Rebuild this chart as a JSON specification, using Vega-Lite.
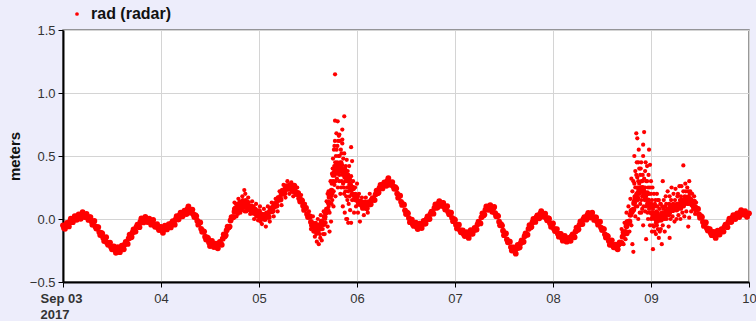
{
  "$schema": "https://vega.github.io/schema/vega-lite/v6.json",
  "width": 686,
  "height": 252,
  "autosize": "none",
  "padding": {"left": 63, "top": 30, "right": 7, "bottom": 39},
  "background": "#ededfb",
  "config": {
    "view": {"fill": "white", "stroke": "#777777", "strokeWidth": 1.5},
    "font": "Liberation Sans"
  },
  "datasets": {
    "base": [
      {"d":0,"v":-0.05},{"d":0.02,"v":-0.078},{"d":0.04,"v":-0.031},{"d":0.06,"v":-0.059},{"d":0.08,"v":0.003},{"d":0.1,"v":-0.025},
      {"d":0.12,"v":0.022},{"d":0.14,"v":-0.006},{"d":0.16,"v":0.037},{"d":0.18,"v":0.001},{"d":0.2,"v":0.055},{"d":0.22,"v":0.015},
      {"d":0.24,"v":0.04},{"d":0.26,"v":-0.007},{"d":0.28,"v":0.015},{"d":0.3,"v":-0.045},{"d":0.32,"v":-0.015},{"d":0.34,"v":-0.076},
      {"d":0.36,"v":-0.064},{"d":0.38,"v":-0.127},{"d":0.4,"v":-0.115},{"d":0.42,"v":-0.175},{"d":0.44,"v":-0.145},{"d":0.46,"v":-0.205},
      {"d":0.48,"v":-0.187},{"d":0.5,"v":-0.24},{"d":0.52,"v":-0.218},{"d":0.54,"v":-0.268},{"d":0.56,"v":-0.223},{"d":0.58,"v":-0.263},
      {"d":0.6,"v":-0.212},{"d":0.62,"v":-0.24},{"d":0.64,"v":-0.182},{"d":0.66,"v":-0.198},{"d":0.68,"v":-0.125},{"d":0.7,"v":-0.142},
      {"d":0.72,"v":-0.083},{"d":0.74,"v":-0.1},{"d":0.76,"v":-0.045},{"d":0.78,"v":-0.065},{"d":0.8,"v":0.005},{"d":0.82,"v":-0.027},
      {"d":0.84,"v":0.016},{"d":0.86,"v":-0.024},{"d":0.88,"v":0.003},{"d":0.9,"v":-0.045},{"d":0.92,"v":-0.008},{"d":0.94,"v":-0.062},
      {"d":0.96,"v":-0.04},{"d":0.98,"v":-0.088},{"d":1,"v":-0.062},{"d":1.02,"v":-0.11},{"d":1.04,"v":-0.052},{"d":1.06,"v":-0.083},
      {"d":1.08,"v":-0.04},{"d":1.1,"v":-0.067},{"d":1.12,"v":-0.018},{"d":1.14,"v":-0.045},{"d":1.16,"v":0.022},{"d":1.18,"v":-0.002},
      {"d":1.2,"v":0.05},{"d":1.22,"v":0.021},{"d":1.24,"v":0.067},{"d":1.26,"v":0.039},{"d":1.28,"v":0.1},{"d":1.3,"v":0.05},
      {"d":1.32,"v":0.075},{"d":1.34,"v":0.016},{"d":1.36,"v":0.023},{"d":1.38,"v":-0.045},{"d":1.4,"v":-0.028},{"d":1.42,"v":-0.102},
      {"d":1.44,"v":-0.1},{"d":1.46,"v":-0.163},{"d":1.48,"v":-0.152},{"d":1.5,"v":-0.215},{"d":1.52,"v":-0.174},{"d":1.54,"v":-0.222},
      {"d":1.56,"v":-0.196},{"d":1.58,"v":-0.232},{"d":1.6,"v":-0.181},{"d":1.62,"v":-0.205},{"d":1.64,"v":-0.122},{"d":1.66,"v":-0.128},
      {"d":1.68,"v":-0.06},{"d":1.7,"v":-0.06},{"d":1.72,"v":0.015},{"d":1.74,"v":0.015},{"d":1.76,"v":0.085},{"d":1.78,"v":0.065},
      {"d":1.8,"v":0.12},{"d":1.82,"v":0.087},{"d":1.84,"v":0.128},{"d":1.86,"v":0.095},{"d":1.88,"v":0.132},{"d":1.9,"v":0.078},
      {"d":1.92,"v":0.1},{"d":1.94,"v":0.05},{"d":1.96,"v":0.075},{"d":1.98,"v":0.025},{"d":2,"v":0.062},{"d":2.02,"v":0.008},
      {"d":2.04,"v":0.03},{"d":2.06,"v":0},{"d":2.08,"v":0.045},{"d":2.1,"v":0.015},{"d":2.12,"v":0.085},{"d":2.14,"v":0.065},
      {"d":2.16,"v":0.12},{"d":2.18,"v":0.107},{"d":2.2,"v":0.168},{"d":2.22,"v":0.155},{"d":2.24,"v":0.225},{"d":2.26,"v":0.205},
      {"d":2.28,"v":0.26},{"d":2.3,"v":0.24},{"d":2.32,"v":0.268},{"d":2.34,"v":0.222},{"d":2.36,"v":0.265},{"d":2.38,"v":0.198},
      {"d":2.4,"v":0.205},{"d":2.42,"v":0.138},{"d":2.44,"v":0.145},{"d":2.46,"v":0.072},{"d":2.48,"v":0.088},{"d":2.5,"v":0.015},
      {"d":2.52,"v":0.02},{"d":2.54,"v":-0.05},{"d":2.56,"v":-0.045},{"d":2.58,"v":-0.095},{"d":2.6,"v":-0.055},{"d":2.62,"v":-0.075},
      {"d":2.64,"v":-0.02},{"d":2.66,"v":-0.04},{"d":2.68,"v":0.052},{"d":2.7,"v":0.068},{"d":2.72,"v":0.175},{"d":2.74,"v":0.225},
      {"d":2.76,"v":0.35},{"d":2.78,"v":0.4},{"d":2.8,"v":0.429},{"d":2.82,"v":0.384},{"d":2.84,"v":0.428},{"d":2.86,"v":0.371},
      {"d":2.88,"v":0.377},{"d":2.9,"v":0.309},{"d":2.92,"v":0.315},{"d":2.94,"v":0.235},{"d":2.96,"v":0.245},{"d":2.98,"v":0.165},
      {"d":3,"v":0.18},{"d":3.02,"v":0.12},{"d":3.04,"v":0.135},{"d":3.06,"v":0.088},{"d":3.08,"v":0.132},{"d":3.1,"v":0.085},
      {"d":3.12,"v":0.133},{"d":3.14,"v":0.117},{"d":3.16,"v":0.165},{"d":3.18,"v":0.15},{"d":3.2,"v":0.225},{"d":3.22,"v":0.21},
      {"d":3.24,"v":0.27},{"d":3.26,"v":0.243},{"d":3.28,"v":0.29},{"d":3.3,"v":0.263},{"d":3.32,"v":0.325},{"d":3.34,"v":0.272},
      {"d":3.36,"v":0.293},{"d":3.38,"v":0.24},{"d":3.4,"v":0.242},{"d":3.42,"v":0.168},{"d":3.44,"v":0.185},{"d":3.46,"v":0.112},
      {"d":3.48,"v":0.113},{"d":3.5,"v":0.04},{"d":3.52,"v":0.045},{"d":3.54,"v":-0.025},{"d":3.56,"v":-0.005},{"d":3.58,"v":-0.055},
      {"d":3.6,"v":-0.03},{"d":3.62,"v":-0.08},{"d":3.64,"v":-0.038},{"d":3.66,"v":-0.072},{"d":3.68,"v":-0.015},{"d":3.7,"v":-0.035},
      {"d":3.72,"v":0.02},{"d":3.74,"v":0},{"d":3.76,"v":0.058},{"d":3.78,"v":0.042},{"d":3.8,"v":0.115},{"d":3.82,"v":0.091},
      {"d":3.84,"v":0.142},{"d":3.86,"v":0.104},{"d":3.88,"v":0.127},{"d":3.9,"v":0.075},{"d":3.92,"v":0.102},{"d":3.94,"v":0.038},
      {"d":3.96,"v":0.05},{"d":3.98,"v":-0.017},{"d":4,"v":-0.008},{"d":4.02,"v":-0.075},{"d":4.04,"v":-0.045},{"d":4.06,"v":-0.105},
      {"d":4.08,"v":-0.09},{"d":4.1,"v":-0.135},{"d":4.12,"v":-0.105},{"d":4.14,"v":-0.15},{"d":4.16,"v":-0.088},{"d":4.18,"v":-0.117},
      {"d":4.2,"v":-0.07},{"d":4.22,"v":-0.083},{"d":4.24,"v":-0.022},{"d":4.26,"v":-0.035},{"d":4.28,"v":0.045},{"d":4.3,"v":0.035},
      {"d":4.32,"v":0.1},{"d":4.34,"v":0.073},{"d":4.36,"v":0.109},{"d":4.38,"v":0.057},{"d":4.4,"v":0.095},{"d":4.42,"v":0.022},
      {"d":4.44,"v":0.023},{"d":4.46,"v":-0.05},{"d":4.48,"v":-0.052},{"d":4.5,"v":-0.128},{"d":4.52,"v":-0.115},{"d":4.54,"v":-0.185},
      {"d":4.56,"v":-0.18},{"d":4.58,"v":-0.25},{"d":4.6,"v":-0.225},{"d":4.62,"v":-0.275},{"d":4.64,"v":-0.205},{"d":4.66,"v":-0.225},
      {"d":4.68,"v":-0.17},{"d":4.7,"v":-0.18},{"d":4.72,"v":-0.115},{"d":4.74,"v":-0.125},{"d":4.76,"v":-0.048},{"d":4.78,"v":-0.062},
      {"d":4.8,"v":0},{"d":4.82,"v":-0.023},{"d":4.84,"v":0.028},{"d":4.86,"v":0.005},{"d":4.88,"v":0.062},{"d":4.9,"v":0.019},
      {"d":4.92,"v":0.042},{"d":4.94,"v":-0.01},{"d":4.96,"v":0.002},{"d":4.98,"v":-0.062},{"d":5,"v":-0.035},{"d":5.02,"v":-0.095},
      {"d":5.04,"v":-0.08},{"d":5.06,"v":-0.14},{"d":5.08,"v":-0.118},{"d":5.1,"v":-0.172},{"d":5.12,"v":-0.135},{"d":5.14,"v":-0.18},
      {"d":5.16,"v":-0.15},{"d":5.18,"v":-0.173},{"d":5.2,"v":-0.122},{"d":5.22,"v":-0.145},{"d":5.24,"v":-0.068},{"d":5.26,"v":-0.082},
      {"d":5.28,"v":-0.02},{"d":5.3,"v":-0.04},{"d":5.32,"v":0.015},{"d":5.34,"v":-0.005},{"d":5.36,"v":0.048},{"d":5.38,"v":0.012},
      {"d":5.4,"v":0.05},{"d":5.42,"v":-0.007},{"d":5.44,"v":0.012},{"d":5.46,"v":-0.045},{"d":5.48,"v":-0.022},{"d":5.5,"v":-0.088},
      {"d":5.52,"v":-0.08},{"d":5.54,"v":-0.147},{"d":5.56,"v":-0.138},{"d":5.58,"v":-0.205},{"d":5.6,"v":-0.169},{"d":5.62,"v":-0.224},
      {"d":5.64,"v":-0.203},{"d":5.66,"v":-0.24},{"d":5.68,"v":-0.185},{"d":5.7,"v":-0.19},{"d":5.72,"v":-0.105},{"d":5.74,"v":-0.102},
      {"d":5.76,"v":-0.023},{"d":5.78,"v":-0.02},{"d":5.8,"v":0.065},{"d":5.82,"v":0.075},{"d":5.84,"v":0.175},{"d":5.86,"v":0.168},
      {"d":5.88,"v":0.237},{"d":5.9,"v":0.23},{"d":5.92,"v":0.242},{"d":5.94,"v":0.178},{"d":5.96,"v":0.205},{"d":5.98,"v":0.115},
      {"d":6,"v":0.1},{"d":6.02,"v":0.01},{"d":6.04,"v":0.035},{"d":6.06,"v":-0.015},{"d":6.08,"v":0.025},{"d":6.1,"v":-0.005},
      {"d":6.12,"v":0.04},{"d":6.14,"v":0.01},{"d":6.16,"v":0.062},{"d":6.18,"v":0.038},{"d":6.2,"v":0.105},{"d":6.22,"v":0.07},
      {"d":6.24,"v":0.11},{"d":6.26,"v":0.075},{"d":6.28,"v":0.115},{"d":6.3,"v":0.088},{"d":6.32,"v":0.15},{"d":6.34,"v":0.123},
      {"d":6.36,"v":0.17},{"d":6.38,"v":0.127},{"d":6.4,"v":0.158},{"d":6.42,"v":0.115},{"d":6.44,"v":0.138},{"d":6.46,"v":0.072},
      {"d":6.48,"v":0.08},{"d":6.5,"v":0.01},{"d":6.52,"v":0.015},{"d":6.54,"v":-0.055},{"d":6.56,"v":-0.028},{"d":6.58,"v":-0.092},
      {"d":6.6,"v":-0.08},{"d":6.62,"v":-0.128},{"d":6.64,"v":-0.102},{"d":6.66,"v":-0.15},{"d":6.68,"v":-0.092},{"d":6.7,"v":-0.123},
      {"d":6.72,"v":-0.08},{"d":6.74,"v":-0.1},{"d":6.76,"v":-0.045},{"d":6.78,"v":-0.065},{"d":6.8,"v":0.002},{"d":6.82,"v":-0.022},
      {"d":6.84,"v":0.03},{"d":6.86,"v":0},{"d":6.88,"v":0.045},{"d":6.9,"v":0.015},{"d":6.92,"v":0.07},{"d":6.94,"v":0.035},
      {"d":6.96,"v":0.063},{"d":6.98,"v":0.017},{"d":7,"v":0.045},
      {"d":0.01,"v":-0.072},{"d":0.03,"v":-0.044},{"d":0.05,"v":-0.048},{"d":0.07,"v":-0.02},{"d":0.09,"v":-0.024},{"d":0.11,"v":0.004},
      {"d":0.13,"v":0},{"d":0.15,"v":0.026},{"d":0.17,"v":0.016},{"d":0.19,"v":0.036},{"d":0.21,"v":0.022},{"d":0.23,"v":0.033},
      {"d":0.25,"v":0.009},{"d":0.27,"v":0.015},{"d":0.29,"v":-0.018},{"d":0.31,"v":-0.022},{"d":0.33,"v":-0.059},{"d":0.35,"v":-0.065},
      {"d":0.37,"v":-0.104},{"d":0.39,"v":-0.111},{"d":0.41,"v":-0.148},{"d":0.43,"v":-0.152},{"d":0.45,"v":-0.188},{"d":0.47,"v":-0.191},
      {"d":0.49,"v":-0.222},{"d":0.51,"v":-0.219},{"d":0.53,"v":-0.246},{"d":0.55,"v":-0.238},{"d":0.57,"v":-0.256},{"d":0.59,"v":-0.232},
      {"d":0.61,"v":-0.234},{"d":0.63,"v":-0.201},{"d":0.65,"v":-0.193},{"d":0.67,"v":-0.154},{"d":0.69,"v":-0.147},{"d":0.71,"v":-0.107},
      {"d":0.73,"v":-0.1},{"d":0.75,"v":-0.062},{"d":0.77,"v":-0.058},{"d":0.79,"v":-0.022},{"d":0.81,"v":-0.024},{"d":0.83,"v":0},
      {"d":0.85,"v":-0.012},{"d":0.87,"v":0},{"d":0.89,"v":-0.024},{"d":0.91,"v":-0.019},{"d":0.93,"v":-0.048},{"d":0.95,"v":-0.046},
      {"d":0.97,"v":-0.072},{"d":0.99,"v":-0.065},{"d":1.01,"v":-0.089},{"d":1.03,"v":-0.073},{"d":1.05,"v":-0.081},{"d":1.07,"v":-0.056},
      {"d":1.09,"v":-0.062},{"d":1.11,"v":-0.032},{"d":1.13,"v":-0.035},{"d":1.15,"v":-0.004},{"d":1.17,"v":-0.003},{"d":1.19,"v":0.03},
      {"d":1.21,"v":0.028},{"d":1.23,"v":0.055},{"d":1.25,"v":0.05},{"d":1.27,"v":0.078},{"d":1.29,"v":0.062},{"d":1.31,"v":0.068},
      {"d":1.33,"v":0.038},{"d":1.35,"v":0.03},{"d":1.37,"v":-0.014},{"d":1.39,"v":-0.029},{"d":1.41,"v":-0.078},{"d":1.43,"v":-0.096},
      {"d":1.45,"v":-0.14},{"d":1.47,"v":-0.147},{"d":1.49,"v":-0.187},{"d":1.51,"v":-0.187},{"d":1.53,"v":-0.211},{"d":1.55,"v":-0.204},
      {"d":1.57,"v":-0.222},{"d":1.59,"v":-0.196},{"d":1.61,"v":-0.196},{"d":1.63,"v":-0.156},{"d":1.65,"v":-0.138},{"d":1.67,"v":-0.089},
      {"d":1.69,"v":-0.068},{"d":1.71,"v":-0.012},{"d":1.73,"v":0.012},{"d":1.75,"v":0.058},{"d":1.77,"v":0.062},{"d":1.79,"v":0.098},
      {"d":1.81,"v":0.096},{"d":1.83,"v":0.118},{"d":1.85,"v":0.109},{"d":1.87,"v":0.122},{"d":1.89,"v":0.092},{"d":1.91,"v":0.095},
      {"d":1.93,"v":0.067},{"d":1.95,"v":0.073},{"d":1.97,"v":0.047},{"d":1.99,"v":0.052},{"d":2.01,"v":0.022},{"d":2.03,"v":0.025},
      {"d":2.05,"v":0.007},{"d":2.07,"v":0.033},{"d":2.09,"v":0.027},{"d":2.11,"v":0.058},{"d":2.13,"v":0.062},{"d":2.15,"v":0.098},
      {"d":2.17,"v":0.106},{"d":2.19,"v":0.148},{"d":2.21,"v":0.159},{"d":2.23,"v":0.198},{"d":2.25,"v":0.202},{"d":2.27,"v":0.238},
      {"d":2.29,"v":0.242},{"d":2.31,"v":0.265},{"d":2.33,"v":0.242},{"d":2.35,"v":0.252},{"d":2.37,"v":0.219},{"d":2.39,"v":0.207},
      {"d":2.41,"v":0.164},{"d":2.43,"v":0.152},{"d":2.45,"v":0.106},{"d":2.47,"v":0.088},{"d":2.49,"v":0.039},{"d":2.51,"v":0.023},
      {"d":2.53,"v":-0.023},{"d":2.55,"v":-0.037},{"d":2.57,"v":-0.073},{"d":2.59,"v":-0.067},{"d":2.61,"v":-0.078},{"d":2.63,"v":-0.042},
      {"d":2.65,"v":-0.038},{"d":2.67,"v":0.017},{"d":2.69,"v":0.057},{"d":2.71,"v":0.13},{"d":2.73,"v":0.187},{"d":2.75,"v":0.293},
      {"d":2.77,"v":0.367},{"d":2.79,"v":0.425},{"d":2.81,"v":0.404},{"d":2.83,"v":0.414},{"d":2.85,"v":0.387},{"d":2.87,"v":0.38},
      {"d":2.89,"v":0.335},{"d":2.91,"v":0.323},{"d":2.93,"v":0.272},{"d":2.95,"v":0.248},{"d":2.97,"v":0.192},{"d":2.99,"v":0.178},
      {"d":3.01,"v":0.142},{"d":3.03,"v":0.138},{"d":3.05,"v":0.109},{"d":3.07,"v":0.118},{"d":3.09,"v":0.096},{"d":3.11,"v":0.115},
      {"d":3.13,"v":0.117},{"d":3.15,"v":0.152},{"d":3.17,"v":0.155},{"d":3.19,"v":0.196},{"d":3.21,"v":0.205},{"d":3.23,"v":0.246},
      {"d":3.25,"v":0.249},{"d":3.27,"v":0.277},{"d":3.29,"v":0.274},{"d":3.31,"v":0.302},{"d":3.33,"v":0.286},{"d":3.35,"v":0.288},
      {"d":3.37,"v":0.259},{"d":3.39,"v":0.252},{"d":3.41,"v":0.202},{"d":3.43,"v":0.185},{"d":3.45,"v":0.136},{"d":3.47,"v":0.118},
      {"d":3.49,"v":0.069},{"d":3.51,"v":0.053},{"d":3.53,"v":0.007},{"d":3.55,"v":-0.007},{"d":3.57,"v":-0.043},{"d":3.59,"v":-0.037},
      {"d":3.61,"v":-0.063},{"d":3.63,"v":-0.049},{"d":3.65,"v":-0.058},{"d":3.67,"v":-0.036},{"d":3.69,"v":-0.038},{"d":3.71,"v":-0.002},
      {"d":3.73,"v":0.002},{"d":3.75,"v":0.04},{"d":3.77,"v":0.047},{"d":3.79,"v":0.087},{"d":3.81,"v":0.09},{"d":3.83,"v":0.122},
      {"d":3.85,"v":0.115},{"d":3.87,"v":0.126},{"d":3.89,"v":0.098},{"d":3.91,"v":0.097},{"d":3.93,"v":0.057},{"d":3.95,"v":0.05},
      {"d":3.97,"v":0.009},{"d":3.99,"v":-0.002},{"d":4.01,"v":-0.045},{"d":4.03,"v":-0.052},{"d":4.05,"v":-0.088},{"d":4.07,"v":-0.092},
      {"d":4.09,"v":-0.121},{"d":4.11,"v":-0.11},{"d":4.13,"v":-0.131},{"d":4.15,"v":-0.111},{"d":4.17,"v":-0.116},{"d":4.19,"v":-0.088},
      {"d":4.21,"v":-0.085},{"d":4.23,"v":-0.042},{"d":4.25,"v":-0.032},{"d":4.27,"v":0.013},{"d":4.29,"v":0.027},{"d":4.31,"v":0.073},
      {"d":4.33,"v":0.079},{"d":4.35,"v":0.102},{"d":4.37,"v":0.08},{"d":4.39,"v":0.084},{"d":4.41,"v":0.046},{"d":4.43,"v":0.028},
      {"d":4.45,"v":-0.022},{"d":4.47,"v":-0.041},{"d":4.49,"v":-0.093},{"d":4.51,"v":-0.114},{"d":4.53,"v":-0.163},{"d":4.55,"v":-0.177},
      {"d":4.57,"v":-0.223},{"d":4.59,"v":-0.227},{"d":4.61,"v":-0.253},{"d":4.63,"v":-0.232},{"d":4.65,"v":-0.228},{"d":4.67,"v":-0.192},
      {"d":4.69,"v":-0.183},{"d":4.71,"v":-0.137},{"d":4.73,"v":-0.123},{"d":4.75,"v":-0.079},{"d":4.77,"v":-0.068},{"d":4.79,"v":-0.026},
      {"d":4.81,"v":-0.02},{"d":4.83,"v":0.013},{"d":4.85,"v":0.014},{"d":4.87,"v":0.042},{"d":4.89,"v":0.028},{"d":4.91,"v":0.036},
      {"d":4.93,"v":0.008},{"d":4.95,"v":0.007},{"d":4.97,"v":-0.033},{"d":4.99,"v":-0.041},{"d":5.01,"v":-0.078},{"d":5.03,"v":-0.082},
      {"d":5.05,"v":-0.118},{"d":5.07,"v":-0.119},{"d":5.09,"v":-0.148},{"d":5.11,"v":-0.146},{"d":5.13,"v":-0.171},{"d":5.15,"v":-0.16},
      {"d":5.17,"v":-0.17},{"d":5.19,"v":-0.137},{"d":5.21,"v":-0.137},{"d":5.23,"v":-0.099},{"d":5.25,"v":-0.088},{"d":5.27,"v":-0.046},
      {"d":5.29,"v":-0.038},{"d":5.31,"v":-0.002},{"d":5.33,"v":0.002},{"d":5.35,"v":0.03},{"d":5.37,"v":0.017},{"d":5.39,"v":0.037},
      {"d":5.41,"v":0.014},{"d":5.43,"v":0.013},{"d":5.45,"v":-0.02},{"d":5.47,"v":-0.026},{"d":5.49,"v":-0.068},{"d":5.51,"v":-0.079},
      {"d":5.53,"v":-0.122},{"d":5.55,"v":-0.132},{"d":5.57,"v":-0.175},{"d":5.59,"v":-0.179},{"d":5.61,"v":-0.21},{"d":5.63,"v":-0.208},
      {"d":5.65,"v":-0.23},{"d":5.67,"v":-0.202},{"d":5.69,"v":-0.191},{"d":5.71,"v":-0.14},{"d":5.73,"v":-0.117},{"d":5.75,"v":-0.057},
      {"d":5.77,"v":-0.03},{"d":5.79,"v":0.033},{"d":5.81,"v":0.067},{"d":5.83,"v":0.133},{"d":5.85,"v":0.159},{"d":5.87,"v":0.208},
      {"d":5.89,"v":0.226},{"d":5.91,"v":0.247},{"d":5.93,"v":0.207},{"d":5.95,"v":0.2},{"d":5.97,"v":0.147},{"d":5.99,"v":0.113},
      {"d":6.01,"v":0.047},{"d":6.03,"v":0.033},{"d":6.05,"v":0.007},{"d":6.07,"v":0.013},{"d":6.09,"v":-0.003},{"d":6.11,"v":0.023},
      {"d":6.13,"v":0.017},{"d":6.15,"v":0.047},{"d":6.17,"v":0.047},{"d":6.19,"v":0.08},{"d":6.21,"v":0.075},{"d":6.23,"v":0.096},
      {"d":6.25,"v":0.085},{"d":6.27,"v":0.106},{"d":6.29,"v":0.099},{"d":6.31,"v":0.127},{"d":6.33,"v":0.124},{"d":6.35,"v":0.152},
      {"d":6.37,"v":0.141},{"d":6.39,"v":0.153},{"d":6.41,"v":0.134},{"d":6.43,"v":0.135},{"d":6.45,"v":0.092},{"d":6.47,"v":0.082},
      {"d":6.49,"v":0.037},{"d":6.51,"v":0.023},{"d":6.53,"v":-0.023},{"d":6.55,"v":-0.034},{"d":6.57,"v":-0.073},{"d":6.59,"v":-0.081},
      {"d":6.61,"v":-0.112},{"d":6.63,"v":-0.105},{"d":6.65,"v":-0.129},{"d":6.67,"v":-0.113},{"d":6.69,"v":-0.121},{"d":6.71,"v":-0.096},
      {"d":6.73,"v":-0.098},{"d":6.75,"v":-0.062},{"d":6.77,"v":-0.058},{"d":6.79,"v":-0.024},{"d":6.81,"v":-0.023},{"d":6.83,"v":0.01},
      {"d":6.85,"v":0.007},{"d":6.87,"v":0.033},{"d":6.89,"v":0.027},{"d":6.91,"v":0.051},{"d":6.93,"v":0.04},{"d":6.95,"v":0.055},
      {"d":6.97,"v":0.032},{"d":6.99,"v":0.042}
    ],
    "scatter": [
      {"d":1.75,"v":0.13},{"d":1.77,"v":0.02},{"d":1.79,"v":0.16},{"d":1.81,"v":0.05},{"d":1.83,"v":0.18},{"d":1.85,"v":0.23},
      {"d":1.86,"v":0.2},{"d":1.87,"v":0.06},{"d":1.89,"v":0.17},{"d":1.91,"v":0.04},{"d":1.93,"v":0.14},{"d":1.95,"v":0},
      {"d":1.97,"v":0.12},{"d":1.99,"v":-0.01},{"d":2.01,"v":0.1},{"d":2.03,"v":-0.04},{"d":2.05,"v":0.08},{"d":2.07,"v":-0.06},
      {"d":2.09,"v":0.1},{"d":2.11,"v":-0.02},{"d":2.13,"v":0.13},{"d":2.15,"v":0.02},{"d":2.17,"v":0.16},{"d":2.19,"v":0.06},
      {"d":2.21,"v":0.22},{"d":2.23,"v":0.11},{"d":2.25,"v":0.27},{"d":2.27,"v":0.17},{"d":2.29,"v":0.3},{"d":2.31,"v":0.2},
      {"d":2.33,"v":0.29},{"d":2.35,"v":0.18},{"d":2.37,"v":0.22},{"d":2.39,"v":0.25},{"d":2.41,"v":0.17},{"d":2.43,"v":0.19},
      {"d":2.45,"v":0.1},{"d":2.47,"v":0.12},
      {"d":1.745,"v":0.08},{"d":1.755,"v":0.05},{"d":1.765,"v":0.12},{"d":1.775,"v":0.1},{"d":1.785,"v":0.04},{"d":1.795,"v":0.1},
      {"d":1.805,"v":0.14},{"d":1.815,"v":0.12},{"d":1.825,"v":0.07},{"d":1.835,"v":0.15},{"d":1.845,"v":0.1},{"d":1.855,"v":0.06},
      {"d":1.865,"v":0.15},{"d":1.875,"v":0.11},{"d":1.885,"v":0.09},{"d":1.895,"v":0.13},{"d":1.905,"v":0.07},{"d":1.915,"v":0.1},
      {"d":1.925,"v":0.05},{"d":1.935,"v":0.08},{"d":1.945,"v":0.1},{"d":1.955,"v":0.04},{"d":1.965,"v":0.07},{"d":1.975,"v":0.03},
      {"d":1.985,"v":0.06},{"d":1.995,"v":0.02},{"d":2.005,"v":0.04},{"d":2.015,"v":-0.02},{"d":2.025,"v":0.02},{"d":2.035,"v":0.04},
      {"d":2.51,"v":0.06},{"d":2.53,"v":-0.08},{"d":2.55,"v":0.02},{"d":2.57,"v":-0.14},{"d":2.58,"v":-0.03},{"d":2.59,"v":-0.18},
      {"d":2.6,"v":0},{"d":2.61,"v":-0.2},{"d":2.62,"v":-0.12},{"d":2.63,"v":0.03},{"d":2.64,"v":-0.17},{"d":2.65,"v":-0.08},
      {"d":2.66,"v":0.06},{"d":2.67,"v":-0.12},{"d":2.68,"v":-0.03},{"d":2.69,"v":0.14},{"d":2.7,"v":-0.06},{"d":2.71,"v":0.22},
      {"d":2.555,"v":-0.1},{"d":2.565,"v":-0.05},{"d":2.575,"v":-0.08},{"d":2.585,"v":-0.12},{"d":2.595,"v":-0.06},{"d":2.605,"v":-0.1},
      {"d":2.615,"v":-0.05},{"d":2.625,"v":-0.15},{"d":2.635,"v":-0.08},{"d":2.645,"v":-0.03},{"d":2.655,"v":-0.12},{"d":2.675,"v":0},{"d":2.685,"v":0.08},
      {"d":2.72,"v":0.05},{"d":2.73,"v":0.3},{"d":2.735,"v":-0.02},{"d":2.74,"v":0.12},{"d":2.745,"v":0.36},{"d":2.75,"v":0.2},
      {"d":2.755,"v":0.48},{"d":2.76,"v":0.1},{"d":2.765,"v":0.55},{"d":2.77,"v":0.27},{"d":2.775,"v":0.62},{"d":2.78,"v":0.18},
      {"d":2.785,"v":0.5},{"d":2.79,"v":0.68},{"d":2.795,"v":0.32},{"d":2.8,"v":0.58},{"d":2.805,"v":0.25},{"d":2.81,"v":0.5},
      {"d":2.815,"v":0.66},{"d":2.82,"v":0.35},{"d":2.825,"v":0.62},{"d":2.83,"v":0.2},{"d":2.835,"v":0.55},{"d":2.84,"v":0.45},
      {"d":2.845,"v":0.3},{"d":2.85,"v":0.6},{"d":2.855,"v":0.1},{"d":2.86,"v":0.48},{"d":2.865,"v":0.25},{"d":2.87,"v":0.52},
      {"d":2.875,"v":0.05},{"d":2.88,"v":0.3},{"d":2.885,"v":0.42},{"d":2.89,"v":0.18},{"d":2.895,"v":0.47},{"d":2.9,"v":0},
      {"d":2.905,"v":0.38},{"d":2.91,"v":0.22},{"d":2.915,"v":0.12},{"d":2.92,"v":0.42},{"d":2.93,"v":0.07},{"d":2.94,"v":0.34},
      {"d":2.95,"v":0.15},{"d":2.96,"v":0.3},{"d":2.97,"v":0.05},{"d":2.98,"v":0.25},{"d":2.99,"v":0.1},{"d":3,"v":0.28},
      {"d":3.01,"v":0.05},{"d":3.02,"v":0.2},{"d":3.03,"v":-0.02},{"d":3.05,"v":0.17},{"d":3.07,"v":0.03},{"d":3.09,"v":0.17},
      {"d":3.11,"v":0.05},{"d":3.13,"v":0.2},
      {"d":2.742,"v":0.28},{"d":2.748,"v":0.15},{"d":2.752,"v":0.4},{"d":2.758,"v":0.3},{"d":2.762,"v":0.22},{"d":2.768,"v":0.42},
      {"d":2.772,"v":0.35},{"d":2.778,"v":0.45},{"d":2.782,"v":0.3},{"d":2.788,"v":0.4},{"d":2.792,"v":0.55},{"d":2.798,"v":0.45},
      {"d":2.802,"v":0.36},{"d":2.808,"v":0.62},{"d":2.812,"v":0.42},{"d":2.818,"v":0.3},{"d":2.822,"v":0.5},{"d":2.828,"v":0.45},
      {"d":2.832,"v":0.38},{"d":2.838,"v":0.25},{"d":2.842,"v":0.52},{"d":2.848,"v":0.4},{"d":2.852,"v":0.35},{"d":2.858,"v":0.28},
      {"d":2.862,"v":0.38},{"d":2.868,"v":0.2},{"d":2.872,"v":0.33},{"d":2.878,"v":0.4},{"d":2.882,"v":0.22},{"d":2.888,"v":0.3},
      {"d":2.892,"v":0.35},{"d":2.898,"v":0.25},{"d":2.902,"v":0.15},{"d":2.908,"v":0.3},{"d":2.912,"v":0.35},{"d":2.918,"v":0.25},
      {"d":2.925,"v":0.18},{"d":2.935,"v":0.25},{"d":2.945,"v":0.2},{"d":2.955,"v":0.25},{"d":2.965,"v":0.2},{"d":2.975,"v":0.15},
      {"d":2.985,"v":0.2},{"d":2.995,"v":0.15},{"d":2.71,"v":0.1},{"d":2.72,"v":-0.1},{"d":2.69,"v":0.05},{"d":2.7,"v":0.2},
      {"d":2.776,"v":1.148},{"d":2.776,"v":0.78},{"d":2.803,"v":0.775},{"d":2.87,"v":0.815},{"d":2.85,"v":0.71},{"d":2.82,"v":0.67},
      {"d":2.85,"v":0.63},{"d":2.77,"v":0.58},{"d":2.94,"v":0.57},{"d":2.95,"v":0.46},{"d":2.91,"v":-0.03},{"d":2.94,"v":-0.03},{"d":2.89,"v":0},
      {"d":5.7,"v":-0.08},{"d":5.72,"v":-0.2},{"d":5.73,"v":-0.03},{"d":5.74,"v":-0.16},{"d":5.75,"v":0.05},{"d":5.76,"v":-0.12},
      {"d":5.77,"v":0.1},{"d":5.78,"v":-0.1},{"d":5.79,"v":0.16},{"d":5.8,"v":0.32},{"d":5.8,"v":-0.05},{"d":5.81,"v":-0.2},
      {"d":5.81,"v":0.22},{"d":5.82,"v":-0.26},{"d":5.82,"v":0.12},{"d":5.83,"v":0.5},{"d":5.83,"v":0.28},{"d":5.84,"v":0.02},
      {"d":5.84,"v":0.38},{"d":5.85,"v":0.68},{"d":5.85,"v":0.2},{"d":5.86,"v":0.64},{"d":5.86,"v":0.1},{"d":5.86,"v":0.33},
      {"d":5.87,"v":0.45},{"d":5.87,"v":0},{"d":5.88,"v":0.28},{"d":5.88,"v":0.4},{"d":5.89,"v":0.12},{"d":5.89,"v":0.35},
      {"d":5.9,"v":0.05},{"d":5.9,"v":0.45},{"d":5.91,"v":0.18},{"d":5.91,"v":0.3},{"d":5.92,"v":0.59},{"d":5.92,"v":0.5},
      {"d":5.92,"v":-0.05},{"d":5.93,"v":0.69},{"d":5.93,"v":0.22},{"d":5.94,"v":0.38},{"d":5.94,"v":0.06},{"d":5.95,"v":-0.16},
      {"d":5.95,"v":0.3},{"d":5.96,"v":0.12},{"d":5.96,"v":0.42},{"d":5.97,"v":0},{"d":5.97,"v":0.25},{"d":5.98,"v":0.55},
      {"d":5.98,"v":0.08},{"d":5.99,"v":0.43},{"d":5.99,"v":-0.05},{"d":6,"v":0.2},{"d":6,"v":0.3},{"d":6.01,"v":-0.1},
      {"d":6.01,"v":0.15},{"d":6.02,"v":-0.24},{"d":6.02,"v":0.08},{"d":6.03,"v":0.2},{"d":6.03,"v":-0.06},{"d":6.04,"v":0.12},
      {"d":6.05,"v":-0.12},{"d":6.05,"v":0.1},{"d":6.06,"v":0.2},{"d":6.07,"v":-0.08},{"d":6.07,"v":0.05},{"d":6.08,"v":0.15},
      {"d":6.09,"v":-0.1},{"d":6.1,"v":0.12},{"d":6.11,"v":-0.2},{"d":6.11,"v":0.05},{"d":6.12,"v":0.3},{"d":6.12,"v":-0.05},
      {"d":6.13,"v":0.15},{"d":6.14,"v":-0.1},{"d":6.15,"v":0.18},{"d":6.16,"v":0},{"d":6.17,"v":0.22},{"d":6.18,"v":-0.06},
      {"d":6.19,"v":-0.15},{"d":6.19,"v":0.18},{"d":6.2,"v":0},{"d":6.21,"v":0.25},{"d":6.22,"v":0.02},{"d":6.23,"v":0.2},
      {"d":6.24,"v":-0.02},{"d":6.25,"v":0.24},{"d":6.26,"v":0},{"d":6.27,"v":0.18},{"d":6.28,"v":0.03},{"d":6.29,"v":0.26},
      {"d":6.3,"v":0},{"d":6.31,"v":0.26},{"d":6.32,"v":0.05},{"d":6.33,"v":0.425},{"d":6.33,"v":0.22},{"d":6.34,"v":0.02},
      {"d":6.35,"v":0.28},{"d":6.36,"v":0.06},{"d":6.37,"v":0.25},{"d":6.38,"v":-0.06},{"d":6.38,"v":0.22},{"d":6.39,"v":0.3},
      {"d":6.39,"v":0.01},{"d":6.4,"v":0.22},{"d":6.41,"v":0.06},{"d":6.42,"v":0.2},{"d":6.43,"v":0.08},{"d":6.44,"v":0.18},
      {"d":6.45,"v":0.04},{"d":6.46,"v":0.13},
      {"d":5.81,"v":0.05},{"d":5.82,"v":0.3},{"d":5.83,"v":0.15},{"d":5.84,"v":0.25},{"d":5.845,"v":0.1},{"d":5.85,"v":0.35},
      {"d":5.855,"v":0.45},{"d":5.86,"v":0.25},{"d":5.865,"v":0.15},{"d":5.87,"v":0.3},{"d":5.875,"v":0.55},{"d":5.88,"v":0.2},
      {"d":5.885,"v":0.05},{"d":5.89,"v":0.25},{"d":5.895,"v":0.4},{"d":5.9,"v":0.15},{"d":5.905,"v":0.3},{"d":5.91,"v":0.08},
      {"d":5.915,"v":0.35},{"d":5.92,"v":0.2},{"d":5.925,"v":0.1},{"d":5.93,"v":0.32},{"d":5.935,"v":0.15},{"d":5.94,"v":0.25},
      {"d":5.945,"v":0.45},{"d":5.95,"v":0.1},{"d":5.955,"v":0.2},{"d":5.96,"v":0.3},{"d":5.965,"v":0.05},{"d":5.97,"v":0.15},
      {"d":5.975,"v":0.35},{"d":5.98,"v":0.2},{"d":5.985,"v":0.1},{"d":5.99,"v":0.25},{"d":5.995,"v":0.05},{"d":6,"v":0},
      {"d":6.005,"v":0.12},{"d":6.01,"v":0.05},{"d":6.015,"v":0.25},{"d":6.02,"v":-0.05},{"d":6.025,"v":0.1},{"d":6.03,"v":0.05},
      {"d":6.035,"v":-0.1},{"d":6.04,"v":0},{"d":6.045,"v":0.15},{"d":6.05,"v":-0.03},{"d":6.055,"v":0.06},{"d":6.06,"v":-0.05},
      {"d":6.065,"v":0.1},{"d":6.07,"v":0.15},{"d":6.075,"v":0},{"d":6.08,"v":-0.15},{"d":6.085,"v":0.08},{"d":6.09,"v":0.02},
      {"d":6.095,"v":0.12},{"d":6.1,"v":-0.08},{"d":6.105,"v":0.02},{"d":6.115,"v":0.1},{"d":6.125,"v":0.08},{"d":6.135,"v":0},
      {"d":6.145,"v":0.1},{"d":6.155,"v":0.12},{"d":6.165,"v":0.08},{"d":6.175,"v":0.05},{"d":6.185,"v":0.12},{"d":6.195,"v":0.05},
      {"d":6.205,"v":0.15},{"d":6.215,"v":0.1},{"d":6.225,"v":0.12},{"d":6.235,"v":0.08},{"d":6.245,"v":0.15},{"d":6.255,"v":0.1},
      {"d":6.265,"v":0.12},{"d":6.275,"v":0.2},{"d":6.285,"v":0.12},{"d":6.295,"v":0.15},{"d":6.305,"v":0.18},{"d":6.315,"v":0.1},
      {"d":6.325,"v":0.15},{"d":6.335,"v":0.1},{"d":6.345,"v":0.18},{"d":6.355,"v":0.22},{"d":6.365,"v":0.15},{"d":6.375,"v":0.12},
      {"d":6.385,"v":0.18},{"d":6.395,"v":0.2},{"d":6.405,"v":0.12},{"d":6.415,"v":0.15},{"d":6.425,"v":0.1},{"d":6.435,"v":0.12},
      {"d":6.445,"v":0.08},{"d":6.455,"v":0.1}
    ]
  },
  "encoding": {
    "x": {
      "field": "d", "type": "quantitative",
      "scale": {"domain": [0, 7], "nice": false, "zero": false},
      "axis": {
        "values": [0, 1, 2, 3, 4, 5, 6, 7],
        "labelExpr": "datum.value == 0 ? ['Sep 03', '2017'] : (datum.value == 7 ? '10' : '0' + (datum.value + 3))",
        "title": null,
        "grid": true, "gridColor": "#d4d4d4", "gridWidth": 1,
        "domainColor": "#000000", "domainWidth": 2,
        "tickColor": "#000000", "tickSize": 5, "tickWidth": 1,
        "labelFont": "Liberation Sans", "labelFontSize": 13, "labelColor": "#333333",
        "labelPadding": 5,
        "labelFontWeight": {"condition": {"test": "datum.value == 0", "value": "bold"}, "value": "normal"},
        "labelAlign": {"condition": {"test": "datum.value == 0", "value": "left"}, "value": "center"},
        "labelOffset": {"condition": {"test": "datum.value == 0", "value": -23}, "value": 0},
        "labelLineHeight": 16,
        "labelFlush": false, "labelOverlap": false, "labelBound": false
      }
    },
    "y": {
      "field": "v", "type": "quantitative",
      "scale": {"domain": [-0.5, 1.5], "nice": false, "zero": false},
      "axis": {
        "values": [-0.5, 0, 0.5, 1, 1.5],
        "format": ".1f",
        "title": "meters",
        "titleFont": "Liberation Sans", "titleFontSize": 15, "titleFontWeight": "bold", "titleColor": "#111111",
        "titlePadding": 7,
        "grid": true, "gridColor": "#d4d4d4", "gridWidth": 1,
        "domainColor": "#000000", "domainWidth": 2,
        "tickColor": "#000000", "tickSize": 5, "tickWidth": 1,
        "labelFont": "Liberation Sans", "labelFontSize": 13, "labelColor": "#333333",
        "labelPadding": 3
      }
    },
    "color": {
      "datum": "rad (radar)",
      "type": "nominal",
      "scale": {"range": ["#ff0000"]},
      "legend": {
        "title": null, "orient": "none", "legendX": 6, "legendY": -24,
        "direction": "horizontal",
        "symbolType": "circle", "symbolSize": 14, "symbolStrokeWidth": 0,
        "labelFont": "Liberation Sans", "labelFontSize": 16, "labelFontWeight": "bold", "labelColor": "#111111",
        "labelOffset": 6
      }
    }
  },
  "layer": [
    {"data": {"name": "base"}, "mark": {"type": "point", "filled": true, "shape": "circle", "size": 34, "opacity": 1}},
    {"data": {"name": "scatter"}, "mark": {"type": "point", "filled": true, "shape": "circle", "size": 18, "opacity": 1}}
  ]
}
